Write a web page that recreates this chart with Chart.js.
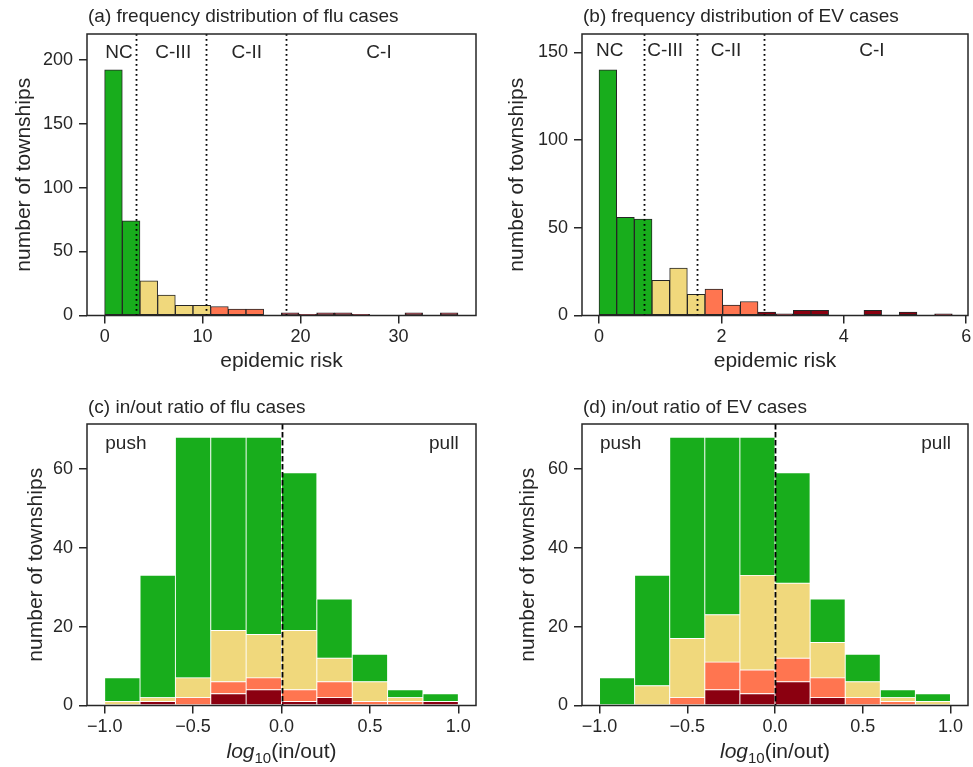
<!DOCTYPE html>
<html><head><meta charset="utf-8">
<script src="https://cdn.jsdelivr.net/npm/chart.js@4/dist/chart.umd.min.js"></script>
<style>
html,body{margin:0;padding:0;background:#fff;width:973px;height:767px;overflow:hidden}
canvas{position:absolute}
</style></head><body>
<canvas id="ca" width="486" height="390" style="left:0;top:0"></canvas>
<canvas id="cb" width="487" height="390" style="left:486px;top:0"></canvas>
<canvas id="cc" width="486" height="377" style="left:0;top:390px"></canvas>
<canvas id="cd" width="487" height="377" style="left:486px;top:390px"></canvas>
<script>
// ---------- data ----------
const classNames = ['NC', 'C-III', 'C-II', 'C-I'];
const classColors = ['#18ad1c', '#f0d87c', '#ff7550', '#8b0010'];

// (a) flu epidemic risk histogram (20 bins starting at 0)
const fluRiskBinStart = 0;
const fluRiskBinWidth = 1.803;
const fluRiskCounts = [192, 74, 27, 16, 8, 8, 7, 5, 5, 0, 2, 1, 2, 2, 1, 0, 0, 2, 0, 2];
const fluRiskClass  = [0, 0, 1, 1, 1, 1, 2, 2, 2, 3, 3, 3, 3, 3, 3, 3, 3, 3, 3, 3];
const fluThresholds = [3.16, 10.3, 18.55];
const fluXTicks = [0, 10, 20, 30];
const fluXTickLabels = ['0', '10', '20', '30'];
const fluYTicks = [0, 50, 100, 150, 200];

// (b) EV epidemic risk histogram
const evRiskBinStart = 0;
const evRiskBinWidth = 0.2886;
const evRiskCounts = [140, 56, 55, 20, 27, 12, 15, 6, 8, 2, 1, 3, 3, 0, 0, 3, 0, 2, 0, 1];
const evRiskClass  = [0, 0, 0, 1, 1, 1, 2, 2, 2, 3, 3, 3, 3, 3, 3, 3, 3, 3, 3, 3];
const evThresholds = [0.74, 1.606, 2.70];
const evXTicks = [0, 2, 4, 6];
const evXTickLabels = ['0', '2', '4', '6'];
const evYTicks = [0, 50, 100, 150];

// (c)/(d) log10(in/out) stacked histograms, 10 bins from -1 to 1
const ratioBinStart = -1.0;
const ratioBinWidth = 0.2;
const fluRatioNC   = [6, 31, 61, 49, 50, 40, 15, 7, 2, 2];
const fluRatioC3   = [1, 1, 5, 13, 11, 15, 6, 5, 1, 0];
const fluRatioC2   = [0, 0, 2, 3, 3, 3, 4, 1, 1, 0];
const fluRatioC1   = [0, 1, 0, 3, 4, 1, 2, 0, 0, 1];
const evRatioNC    = [7, 28, 51, 45, 35, 28, 11, 7, 2, 2];
const evRatioC3    = [0, 5, 15, 12, 24, 19, 9, 4, 1, 1];
const evRatioC2    = [0, 0, 2, 7, 6, 6, 5, 2, 1, 0];
const evRatioC1    = [0, 0, 0, 4, 3, 6, 2, 0, 0, 0];
const ratioXTicks = [-1.0, -0.5, 0, 0.5, 1.0];
const ratioXTickLabels = ['\u22121.0', '\u22120.5', '0.0', '0.5', '1.0'];
const ratioYTicks = [0, 20, 40, 60];

// ---------- styling / helpers ----------
const FONT = '"Liberation Sans", Arial, Helvetica, sans-serif';
const TXT = '#262626';
const TICK_SIZE = 18, LABEL_SIZE = 21, TITLE_SIZE = 19, NOTE_SIZE = 19;

function centers(start, width, n) {
  const c = [];
  for (let i = 0; i < n; i++) c.push(start + width * (i + 0.5));
  return c;
}

function axisX(min, max, ticks, labels, h, stacked) {
  return {
    type: 'linear', min, max, offset: false, stacked: !!stacked,
    afterBuildTicks: s => { s.ticks = ticks.map(v => ({ value: v })); },
    afterFit: s => { s.height = h; s.paddingLeft = 0; s.paddingRight = 0; },
    grid: { offset: false, drawOnChartArea: false, drawTicks: true, tickLength: 8, color: TXT, lineWidth: 1.5 },
    border: { display: false },
    ticks: { color: TXT, font: { family: FONT, size: TICK_SIZE }, padding: 3, maxRotation: 0, autoSkip: false,
             callback: (v, i) => labels[i] }
  };
}
function axisY(max, ticks, w, stacked) {
  return {
    type: 'linear', min: 0, max, stacked: !!stacked,
    afterBuildTicks: s => { s.ticks = ticks.map(v => ({ value: v })); },
    afterFit: s => { s.width = w; s.paddingTop = 0; s.paddingBottom = 0; },
    grid: { drawOnChartArea: false, drawTicks: true, tickLength: 8, color: TXT, lineWidth: 1.5 },
    border: { display: false },
    ticks: { color: TXT, font: { family: FONT, size: TICK_SIZE }, padding: 6, autoSkip: false,
             callback: v => String(v) }
  };
}

function drawLogLabel(ctx, cx, cy) {
  const f = LABEL_SIZE;
  const parts = [
    { t: 'log', font: `italic ${f}px ${FONT}`, dy: 0 },
    { t: '10', font: `${Math.round(f * 0.7)}px ${FONT}`, dy: f * 0.3 },
    { t: '(in/out)', font: `${f}px ${FONT}`, dy: 0 }
  ];
  let total = 0;
  parts.forEach(p => { ctx.font = p.font; p.w = ctx.measureText(p.t).width; total += p.w; });
  let x = cx - total / 2;
  ctx.textAlign = 'left';
  parts.forEach(p => { ctx.font = p.font; ctx.fillText(p.t, x, cy + p.dy); x += p.w; });
}

function decor(o) {
  return {
    id: 'decor',
    afterDatasetsDraw(chart) {
      const { ctx, chartArea: a, scales: { x, y } } = chart;
      ctx.save();
      // reference lines
      ctx.strokeStyle = '#000';
      ctx.lineWidth = o.vlw;
      ctx.setLineDash(o.dash);
      o.vlines.forEach(v => {
        const px = Math.round(x.getPixelForValue(v)) + 0.5;
        ctx.beginPath(); ctx.moveTo(px, a.top); ctx.lineTo(px, a.bottom); ctx.stroke();
      });
      ctx.setLineDash([]);
      // frame
      ctx.lineWidth = 1.5; ctx.strokeStyle = TXT;
      ctx.strokeRect(a.left, a.top, a.right - a.left, a.bottom - a.top);
      // annotations
      ctx.fillStyle = TXT;
      ctx.textBaseline = 'middle';
      ctx.textAlign = 'center';
      ctx.font = `${NOTE_SIZE}px ${FONT}`;
      o.notes.forEach(n => ctx.fillText(n.text, x.getPixelForValue(n.x), y.getPixelForValue(n.y)));
      // title
      ctx.textAlign = 'left';
      ctx.font = `${TITLE_SIZE}px ${FONT}`;
      ctx.fillText(o.title, a.left + 1, a.top - o.titleOff);
      // x label
      const cx = (a.left + a.right) / 2;
      if (o.xlabel === 'log') drawLogLabel(ctx, cx, a.bottom + o.xlabOff);
      else { ctx.textAlign = 'center'; ctx.font = `${LABEL_SIZE}px ${FONT}`; ctx.fillText(o.xlabel, cx, a.bottom + o.xlabOff); }
      // y label
      ctx.save();
      ctx.translate(o.ylabX, (a.top + a.bottom) / 2);
      ctx.rotate(-Math.PI / 2);
      ctx.textAlign = 'center';
      ctx.font = `${LABEL_SIZE}px ${FONT}`;
      ctx.fillText('number of townships', 0, 0);
      ctx.restore();
      ctx.restore();
    }
  };
}

function histChart(id, d) {
  const cs = centers(d.binStart, d.binWidth, d.counts.length);
  return new Chart(document.getElementById(id), {
    type: 'bar',
    data: { datasets: [{
      data: cs.map((x, i) => ({ x, y: d.counts[i] })),
      backgroundColor: d.classes.map(c => classColors[c]),
      borderColor: TXT, borderWidth: 1, borderSkipped: false,
      barPercentage: 1, categoryPercentage: 1
    }] },
    options: {
      responsive: false, animation: false, events: [],
      layout: { padding: { left: 0, top: 34, right: d.padRight, bottom: 0 } },
      plugins: { legend: { display: false }, tooltip: { enabled: false }, title: { display: false } },
      scales: {
        x: axisX(d.xMin, d.xMax, d.xTicks, d.xTickLabels, d.xAxisH),
        y: axisY(d.yMax, d.yTicks, d.yAxisW)
      }
    },
    plugins: [decor(d.decor)]
  });
}

function ratioChart(id, d) {
  const cs = centers(ratioBinStart, ratioBinWidth, d.series[0].length);
  const order = [3, 2, 1, 0]; // stack from C-I at bottom to NC on top
  return new Chart(document.getElementById(id), {
    type: 'bar',
    data: { datasets: order.map(k => ({
      label: classNames[k],
      data: cs.map((x, i) => ({ x, y: d.series[k][i] })),
      backgroundColor: classColors[k],
      borderColor: '#ffffff', borderWidth: 0.8, borderSkipped: false,
      barPercentage: 1, categoryPercentage: 1
    })) },
    options: {
      responsive: false, animation: false, events: [],
      layout: { padding: { left: 0, top: 34, right: d.padRight, bottom: 0 } },
      plugins: { legend: { display: false }, tooltip: { enabled: false }, title: { display: false } },
      scales: {
        x: axisX(-1.1, 1.1, ratioXTicks, ratioXTickLabels, 61.5, true),
        y: axisY(71.4, ratioYTicks, d.yAxisW, true)
      }
    },
    plugins: [decor(d.decor)]
  });
}

histChart('ca', {
  binStart: fluRiskBinStart, binWidth: fluRiskBinWidth, counts: fluRiskCounts, classes: fluRiskClass,
  xMin: -1.8, xMax: 37.9, xTicks: fluXTicks, xTickLabels: fluXTickLabels, yMax: 220, yTicks: fluYTicks,
  xAxisH: 74.5, yAxisW: 87, padRight: 10,
  decor: {
    vlines: fluThresholds, dash: [1.8, 3.2], vlw: 1.8,
    notes: [
      { text: classNames[0], x: 1.46, y: 205 }, { text: classNames[1], x: 7.0, y: 205 },
      { text: classNames[2], x: 14.5, y: 205 }, { text: classNames[3], x: 28, y: 205 }
    ],
    title: '(a) frequency distribution of flu cases', titleOff: 17,
    xlabel: 'epidemic risk', xlabOff: 46, ylabX: 24
  }
});

histChart('cb', {
  binStart: evRiskBinStart, binWidth: evRiskBinWidth, counts: evRiskCounts, classes: evRiskClass,
  xMin: -0.278, xMax: 6.029, xTicks: evXTicks, xTickLabels: evXTickLabels, yMax: 160.4, yTicks: evYTicks,
  xAxisH: 74.5, yAxisW: 96, padRight: 5,
  decor: {
    vlines: evThresholds, dash: [1.8, 3.2], vlw: 1.8,
    notes: [
      { text: classNames[0], x: 0.175, y: 151 }, { text: classNames[1], x: 1.08, y: 151 },
      { text: classNames[2], x: 2.075, y: 151 }, { text: classNames[3], x: 4.46, y: 151 }
    ],
    title: '(b) frequency distribution of EV cases', titleOff: 17,
    xlabel: 'epidemic risk', xlabOff: 46, ylabX: 31
  }
});

ratioChart('cc', {
  series: [fluRatioNC, fluRatioC3, fluRatioC2, fluRatioC1], yAxisW: 87, padRight: 10,
  decor: {
    vlines: [0], dash: [5.5, 2.5], vlw: 1.8,
    notes: [{ text: 'push', x: -0.88, y: 66.3 }, { text: 'pull', x: 0.918, y: 66.3 }],
    title: '(c) in/out ratio of flu cases', titleOff: 16,
    xlabel: 'log', xlabOff: 47, ylabX: 36
  }
});

ratioChart('cd', {
  series: [evRatioNC, evRatioC3, evRatioC2, evRatioC1], yAxisW: 96, padRight: 5,
  decor: {
    vlines: [0], dash: [5.5, 2.5], vlw: 1.8,
    notes: [{ text: 'push', x: -0.88, y: 66.3 }, { text: 'pull', x: 0.918, y: 66.3 }],
    title: '(d) in/out ratio of EV cases', titleOff: 16,
    xlabel: 'log', xlabOff: 47, ylabX: 42
  }
});
</script>
</body></html>
